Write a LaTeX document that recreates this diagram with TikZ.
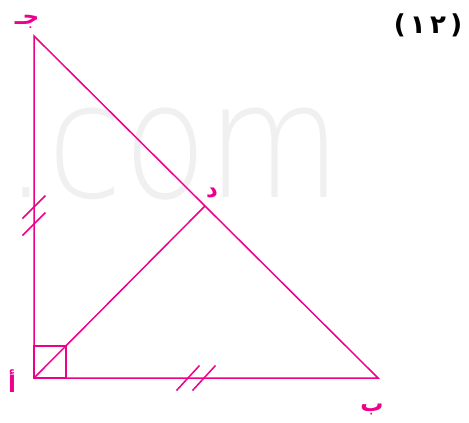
\documentclass[tikz,border=0pt]{standalone}
\usepackage{fontspec}
\usetikzlibrary{calc}
\TeXXeTstate=1
\newfontfamily\arabicfont[Script=Arabic]{DejaVu Sans}
\newfontfamily\numfont{DejaVu Sans}
\IfFontExistsTF{DejaVu Sans ExtraLight}{\newfontfamily\wmfont{DejaVu Sans ExtraLight}}{\newfontfamily\wmfont{DejaVu Sans}}
\definecolor{mag}{RGB}{236,0,140}
\tikzset{
  geo/.style={draw=mag, line width=1.5pt},
  tick/.style={draw=mag, line width=1.5pt},
  lbl/.style={text=mag, inner sep=0pt, font=\arabicfont\bfseries\fontsize{23}{23}\selectfont},
}
\begin{document}
\begin{tikzpicture}[x=1pt,y=-1pt]
\useasboundingbox (0,0) rectangle (469,423);
% watermark
\node[text=black!6, inner sep=0pt, anchor=base west, xscale=0.86,
      font=\wmfont\fontsize{160}{160}\selectfont] (wm) at (4,197) {.com};
% points
\coordinate (A) at (34,378);
\coordinate (B) at (378,378);
\coordinate (C) at (34,36);
\coordinate (D) at ($(C)!(A)!(B)$);
% triangle and altitude
\draw[geo] (C) -- (A) -- (B) -- cycle;
\draw[geo] (A) -- (D);
\draw[geo] (A) rectangle ++(32,-32);
% equal-length ticks
\foreach \y in {207,224}{
  \coordinate (t) at (34,\y);
  \draw[tick] ($(t)+(-11.5,11.5)$) -- ($(t)+(11.5,-11.5)$);
}
\foreach \x in {188,204}{
  \coordinate (t) at (\x,378);
  \draw[tick] ($(t)+(-11.5,12.5)$) -- ($(t)+(11.5,-12.5)$);
}
% labels
\node[lbl] (lC) at (27,22) {\beginR جـ\endR};
\node[lbl] (lD) at (212,193) {\beginR د\endR};
\node[lbl] (lB) at (372,409) {\beginR ب\endR};
\node[lbl] (lA) at (12,381) {\beginR أ\endR};
\node[inner sep=0pt, font=\numfont\bfseries\fontsize{26}{26}\selectfont] (num) at (428,25) {(\,١\,٢\,)};
\end{tikzpicture}
\end{document}
